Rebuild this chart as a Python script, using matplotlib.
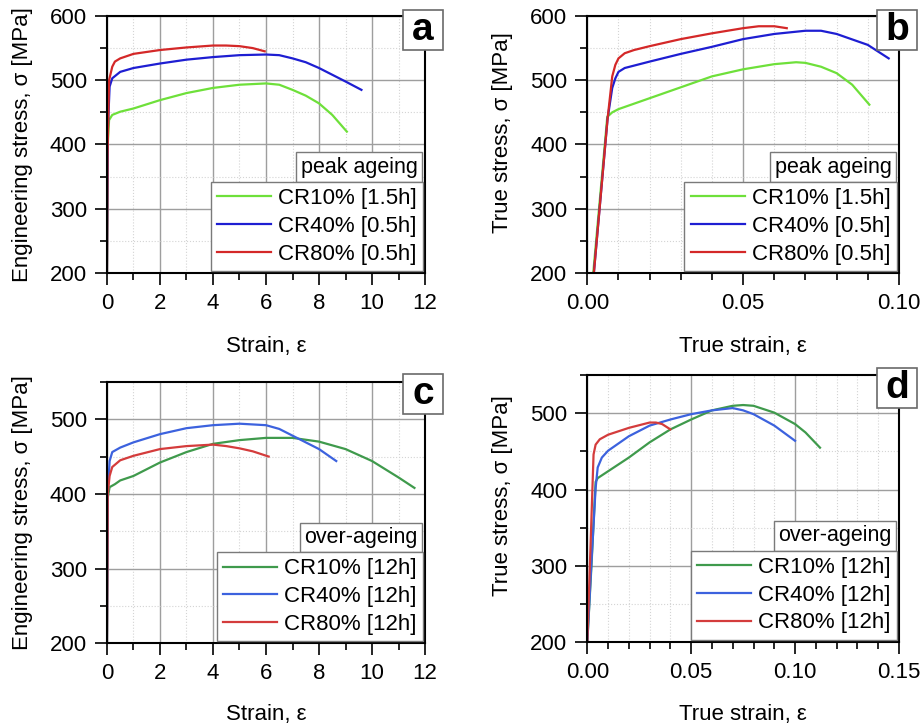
import matplotlib
matplotlib.use("Agg")
import matplotlib.pyplot as plt
from matplotlib.patches import Rectangle
from matplotlib.ticker import MultipleLocator, FormatStrFormatter

plt.rcParams['font.family'] = ['Liberation Sans', 'DejaVu Sans']
plt.rcParams['font.size'] = 16

# ---- panel a : engineering stress-strain, peak ageing ----
a_green_x = [0, 0.03, 0.08, 0.2, 0.5, 1, 2, 3, 4, 5, 6, 6.5, 7, 7.5, 8, 8.5, 9.05]
a_green_y = [200, 400, 438, 446, 451, 456, 469, 480, 488, 493, 495, 493, 485, 476, 464, 446, 420]
a_blue_x = [0, 0.03, 0.1, 0.2, 0.5, 1, 2, 3, 4, 5, 6, 6.5, 7, 7.5, 8, 9, 9.6]
a_blue_y = [200, 420, 490, 503, 513, 519, 526, 532, 536, 539, 540, 539, 534, 528, 519, 498, 485]
a_red_x = [0, 0.02, 0.08, 0.2, 0.3, 0.5, 1, 2, 3, 4, 4.5, 5, 5.5, 5.95]
a_red_y = [200, 380, 500, 521, 529, 534, 541, 547, 551, 554, 554, 553, 550, 545]

# ---- panel b : true stress-strain, peak ageing ----
b_green_x = [0.0019, 0.0064, 0.008, 0.01, 0.02, 0.03, 0.04, 0.05, 0.06, 0.067, 0.07, 0.075, 0.08, 0.085, 0.0905]
b_green_y = [200, 443, 450, 455, 472, 489, 506, 517, 525, 528, 527, 521, 511, 493, 462]
b_blue_x = [0.0021, 0.0065, 0.008, 0.009, 0.01, 0.012, 0.02, 0.03, 0.04, 0.05, 0.06, 0.07, 0.075, 0.08, 0.09, 0.0967]
b_blue_y = [200, 440, 488, 503, 513, 519, 529, 541, 552, 564, 572, 577, 577, 572, 555, 534]
b_red_x = [0.0021, 0.0065, 0.008, 0.009, 0.01, 0.012, 0.015, 0.02, 0.03, 0.04, 0.05, 0.055, 0.06, 0.064]
b_red_y = [200, 440, 506, 524, 534, 542, 547, 553, 564, 573, 581, 584, 584, 581]

# ---- panel c : engineering stress-strain, over-ageing ----
c_green_x = [0, 0.03, 0.1, 0.3, 0.5, 1, 2, 3, 4, 5, 6, 7, 8, 9, 10, 11, 11.6]
c_green_y = [200, 395, 409, 413, 418, 424, 442, 456, 467, 472, 475, 475, 470, 460, 444, 422, 408]
c_blue_x = [0, 0.03, 0.1, 0.2, 0.5, 1, 2, 3, 4, 5, 6, 6.5, 7, 8, 8.65]
c_blue_y = [200, 400, 444, 456, 462, 469, 480, 488, 492, 494, 492, 487, 478, 460, 444]
c_red_x = [0, 0.03, 0.1, 0.2, 0.5, 1, 2, 3, 4, 4.5, 5, 5.5, 6.1]
c_red_y = [200, 400, 424, 436, 445, 451, 460, 464, 466, 464, 461, 457, 450]

# ---- panel d : true stress-strain, over-ageing ----
d_green_x = [0.0, 0.002, 0.004, 0.005, 0.01, 0.02, 0.03, 0.04, 0.05, 0.06, 0.07, 0.075, 0.08, 0.09, 0.1, 0.105, 0.112]
d_green_y = [200, 300, 410, 415, 424, 442, 462, 479, 492, 504, 510, 511, 510, 501, 486, 475, 455]
d_blue_x = [0.0, 0.002, 0.004, 0.005, 0.007, 0.01, 0.02, 0.03, 0.04, 0.05, 0.06, 0.07, 0.075, 0.08, 0.09, 0.1]
d_blue_y = [200, 305, 402, 429, 442, 451, 470, 484, 492, 499, 504, 507, 504, 499, 484, 464]
d_red_x = [0.0, 0.002, 0.003, 0.004, 0.006, 0.01, 0.02, 0.03, 0.033, 0.036, 0.04]
d_red_y = [200, 363, 446, 459, 466, 472, 481, 488, 488, 486, 479]

peak_labels = ['CR10% [1.5h]', 'CR40% [0.5h]', 'CR80% [0.5h]']
over_labels = ['CR10% [12h]', 'CR40% [12h]', 'CR80% [12h]']
peak_colors = ['#6ee03a', '#1e1ed2', '#d42828']
over_colors = ['#3f9a4c', '#3c62de', '#d43c3c']

fig = plt.figure(figsize=(9.22, 7.26), dpi=100)
ax_a = fig.add_axes([0.116, 0.624, 0.345, 0.354])
ax_b = fig.add_axes([0.637, 0.624, 0.338, 0.354])
ax_c = fig.add_axes([0.116, 0.114, 0.345, 0.360])
ax_d = fig.add_axes([0.637, 0.116, 0.338, 0.367])


def style(ax, xlim, ylim, xmaj, xmin, xfmt=None):
    ax.set_xlim(*xlim)
    ax.set_ylim(*ylim)
    ax.xaxis.set_major_locator(MultipleLocator(xmaj))
    ax.xaxis.set_minor_locator(MultipleLocator(xmin))
    ax.yaxis.set_major_locator(MultipleLocator(100))
    ax.yaxis.set_minor_locator(MultipleLocator(50))
    if xfmt:
        ax.xaxis.set_major_formatter(xfmt)
    ax.grid(which='major', color='#9e9e9e', lw=1.0)
    ax.grid(which='minor', color='#d4d4d4', lw=0.8, ls=':')
    ax.set_axisbelow(True)
    ax.tick_params(which='major', direction='out', length=8.5, width=1.2, labelsize=16, pad=6)
    ax.tick_params(which='minor', direction='out', length=5, width=1.2)
    for s in ax.spines.values():
        s.set_linewidth(1.5)
        s.set_color('black')


def draw_panel(ax, xs, ys, colors, labels, title, letter, ycoord):
    for x, y, c, lab in zip(xs, ys, colors, labels):
        ax.plot(x, y, color=c, lw=1.6, label=lab)
    leg = ax.legend(loc='lower right', bbox_to_anchor=(1.0, 0.0), borderaxespad=0.1,
                    fancybox=False, framealpha=1, edgecolor='#7a7a7a', fontsize=16,
                    handlelength=2.45, handletextpad=0.3, labelspacing=0.3,
                    borderpad=0.28)
    leg.get_frame().set_linewidth(1.0)
    fig.canvas.draw()
    bb = leg.get_window_extent()
    pad = 0.2 * 15.5 * 100 / 72
    x_ax, y_ax = ax.transAxes.inverted().transform((bb.x1 - pad - 1, bb.y1 + pad))
    ax.text(x_ax, y_ax, title, ha='right', va='bottom', fontsize=15.5, transform=ax.transAxes,
            bbox=dict(boxstyle='square,pad=0.2', fc='white', ec='#7a7a7a', lw=1.0), zorder=5)
    # panel letter in a square box
    cx, cy = fig.transFigure.inverted().transform(ax.transAxes.transform((0.994, ycoord)))
    w, h = 40 / 922, 40 / 726
    fig.add_artist(Rectangle((cx - w / 2, cy - h / 2), w, h, transform=fig.transFigure,
                             fc='white', ec='#6a6a6a', lw=1.2, zorder=10))
    fig.text(cx, cy, letter, ha='center', va='center', fontsize=28, fontweight='bold', zorder=11)


style(ax_a, (0, 12), (200, 600), 2, 1)
style(ax_b, (0, 0.10), (200, 600), 0.05, 0.01, FormatStrFormatter('%.2f'))
style(ax_c, (0, 12), (200, 550), 2, 1)
style(ax_d, (0, 0.15), (200, 550), 0.05, 0.01, FormatStrFormatter('%.2f'))

ax_a.set_xlabel('Strain, ε', fontsize=16)
ax_a.set_ylabel('Engineering stress, σ [MPa]', fontsize=16)
ax_b.set_xlabel('True strain, ε', fontsize=16)
ax_b.set_ylabel('True stress, σ [MPa]', fontsize=16)
ax_c.set_xlabel('Strain, ε', fontsize=16)
ax_c.set_ylabel('Engineering stress, σ [MPa]', fontsize=16)
ax_d.set_xlabel('True strain, ε', fontsize=16)
ax_d.set_ylabel('True stress, σ [MPa]', fontsize=16)

ax_a.xaxis.set_label_coords(0.5, -0.245)
ax_b.xaxis.set_label_coords(0.5, -0.245)
ax_c.xaxis.set_label_coords(0.5, -0.234)
ax_d.xaxis.set_label_coords(0.5, -0.232)
ax_a.yaxis.set_label_coords(-0.233, 0.5)
ax_b.yaxis.set_label_coords(-0.237, 0.545)
ax_c.yaxis.set_label_coords(-0.233, 0.5)
ax_d.yaxis.set_label_coords(-0.237, 0.547)

draw_panel(ax_a, [a_green_x, a_blue_x, a_red_x], [a_green_y, a_blue_y, a_red_y],
           peak_colors, peak_labels, 'peak ageing', 'a', 0.946)
draw_panel(ax_b, [b_green_x, b_blue_x, b_red_x], [b_green_y, b_blue_y, b_red_y],
           peak_colors, peak_labels, 'peak ageing', 'b', 0.946)
draw_panel(ax_c, [c_green_x, c_blue_x, c_red_x], [c_green_y, c_blue_y, c_red_y],
           over_colors, over_labels, 'over-ageing', 'c', 0.952)
draw_panel(ax_d, [d_green_x, d_blue_x, d_red_x], [d_green_y, d_blue_y, d_red_y],
           over_colors, over_labels, 'over-ageing', 'd', 0.951)

fig.savefig('out.png', dpi=100)
